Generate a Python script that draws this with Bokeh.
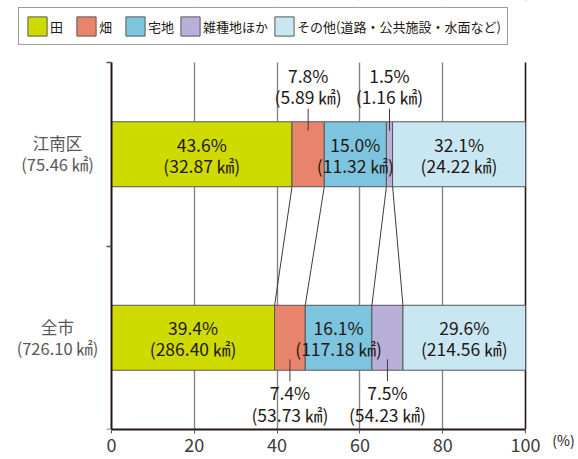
from bokeh.plotting import figure
from bokeh.models import (Range1d, FixedTicker, Label, Legend, LegendItem, Span,
                          ColumnDataSource, LinearAxis, BoxAnnotation)
from bokeh.core.properties import value
from bokeh.embed import file_html
from bokeh.resources import INLINE

# ---- data ----
categories = ["江南区", "全市"]
cat_totals = ["75.46", "726.10"]
series = ["田", "畑", "宅地", "雑種地ほか", "その他(道路・公共施設・水面など)"]
pct_konan = [43.6, 7.8, 15.0, 1.5, 32.1]
pct_city = [39.4, 7.4, 16.1, 7.5, 29.6]
km2_konan = [32.87, 5.89, 11.32, 1.16, 24.22]
km2_city = [286.40, 53.73, 117.18, 54.23, 214.56]
colors = ["#cfdb00", "#e8846b", "#7dc4df", "#b8b0d8", "#c9e7f3"]
x_ticks = [0, 20, 40, 60, 80, 100]
unit_label = "(%)"

FONT = "Noto Sans CJK JP"
TXT = "#231815"
y_pos = [1.5, 0.5]          # 江南区 on top, 全市 below
y_top = 2.0                 # top of the bar area (y axis end)
bar_h = 0.354
px_unit = 183.5             # pixels per y unit
px_x = 4.14                 # pixels per x unit
frame_left = 12
axis_px = 111               # screen x of value 0
unit_x = 100 + 38 / px_x    # where the "(%)" unit text sits

p = figure(width=578, height=459, title=None,
           x_range=Range1d(-(axis_px - frame_left) / px_x, 100 + (578 - 525) / px_x),
           y_range=Range1d(0, y_top + 62 / px_unit),
           output_backend="svg", toolbar_location=None,
           min_border_left=frame_left, min_border_right=0, min_border_top=0,
           min_border_bottom=30)
p.outline_line_color = None
p.background_fill_color = "white"


def cum(vals):
    out = [0.0]
    for v in vals:
        out.append(out[-1] + v)
    return out


pcts = [pct_konan, pct_city]
kms = [km2_konan, km2_city]
cums = [cum(pct_konan), cum(pct_city)]

# grid (masked above the bar area)
p.ygrid.grid_line_color = None
p.xgrid.ticker = FixedTicker(ticks=x_ticks[1:-1])
p.xgrid.grid_line_color = "#858585"
p.xgrid.grid_line_width = 1.4
p.add_layout(Span(location=x_ticks[-1], dimension="height", line_color=TXT,
                  line_width=1.6, level="underlay"))
p.add_layout(BoxAnnotation(bottom=y_top, fill_color="white", fill_alpha=1,
                           line_color=None, level="underlay"))

# bars
renderers = []
for i, name in enumerate(series):
    src = ColumnDataSource(dict(y=y_pos,
                                left=[cums[0][i], cums[1][i]],
                                right=[cums[0][i + 1], cums[1][i + 1]]))
    r = p.hbar(y="y", left="left", right="right", height=bar_h, source=src,
               fill_color=colors[i], line_color="#595757", line_width=1)
    renderers.append(r)

# connector lines between the two bars
p.segment(x0=cums[0][1:5], y0=[y_pos[0] - bar_h / 2] * 4,
          x1=cums[1][1:5], y1=[y_pos[1] + bar_h / 2] * 4,
          line_color="#3e3a39", line_width=1)

# value labels
in_x, in_y, in_p, in_k = [], [], [], []
out_x, out_y, out_p, out_k, out_dir = [], [], [], [], []
for c in range(2):
    for i in range(len(series)):
        xc = (cums[c][i] + cums[c][i + 1]) / 2
        pt = "%.1f%%" % pcts[c][i]
        kt = "(%.2f ㎢)" % kms[c][i]
        if pcts[c][i] >= 10:
            in_x.append(xc); in_y.append(y_pos[c]); in_p.append(pt); in_k.append(kt)
        else:
            out_x.append(xc); out_p.append(pt); out_k.append(kt); out_dir.append(c)
            out_y.append(y_pos[c] + bar_h / 2 if c == 0 else y_pos[c] - bar_h / 2)

LBL = dict(text_align="center", text_baseline="middle", text_font=value(FONT),
           text_font_size="17.5px", text_color=TXT)
p.text(x=in_x, y=in_y, text=in_p, y_offset=-10, **LBL)
p.text(x=in_x, y=in_y, text=in_k, y_offset=11, **LBL)

for xc, ye, pt, kt, d in zip(out_x, out_y, out_p, out_k, out_dir):
    if d == 0:
        p.segment(x0=[xc], y0=[ye + 13 / px_unit], x1=[xc], y1=[ye - 9 / px_unit],
                  line_color="#3e3a39", line_width=1)
        p.text(x=[xc], y=[ye], text=[pt], y_offset=-46, **LBL)
        p.text(x=[xc], y=[ye], text=[kt], y_offset=-25, **LBL)
    else:
        p.segment(x0=[xc], y0=[ye + 11 / px_unit], x1=[xc], y1=[ye - 11 / px_unit],
                  line_color="#3e3a39", line_width=1)
        p.text(x=[xc], y=[ye], text=[pt], y_offset=22, **LBL)
        p.text(x=[xc], y=[ye], text=[kt], y_offset=44, **LBL)

# category labels (left of the y axis)
for c in range(2):
    p.add_layout(Label(x=0, y=y_pos[c], x_offset=-54, y_offset=11, text=categories[c],
                       text_align="center", text_baseline="middle", text_font=FONT,
                       text_font_size="16.5px", text_color="#595757"))
    p.add_layout(Label(x=0, y=y_pos[c], x_offset=-54, y_offset=-10,
                       text="(%s ㎢)" % cat_totals[c],
                       text_align="center", text_baseline="middle", text_font=FONT,
                       text_font_size="16.5px", text_color="#595757"))

# x axis
p.xaxis.ticker = FixedTicker(ticks=x_ticks)
p.xaxis.bounds = (x_ticks[0], x_ticks[-1])
p.xaxis.major_tick_out = 4
p.xaxis.major_tick_in = 0
p.xaxis.minor_tick_line_color = None
p.xaxis.axis_line_width = 2
p.xaxis.axis_line_color = TXT
p.xaxis.major_tick_line_color = "#555555"
p.xaxis.major_label_text_font = FONT
p.xaxis.major_label_text_font_size = "18px"
p.xaxis.major_label_text_color = "#3e3a39"
p.xaxis.major_label_standoff = 4

# unit "(%)" as the label of a second bottom axis, lifted up beside "100"
unit_axis = LinearAxis(ticker=FixedTicker(ticks=[unit_x]),
                       major_label_overrides={unit_x: unit_label},
                       axis_line_color=None, major_tick_line_color=None,
                       minor_tick_line_color=None, major_tick_out=0, major_tick_in=0,
                       major_label_standoff=-25, major_label_text_font=FONT,
                       major_label_text_font_size="14px", major_label_text_color=TXT)
p.add_layout(unit_axis, "below")

# y axis drawn at x = 0
p.yaxis.fixed_location = 0
p.yaxis.bounds = (0, y_top)
p.yaxis.ticker = FixedTicker(ticks=[0, 1, 2])
p.yaxis.major_label_overrides = {0: "", 1: "", 2: ""}
p.yaxis.major_label_standoff = 0
p.yaxis.major_tick_out = 5
p.yaxis.major_tick_in = 0
p.yaxis.major_tick_line_color = "#555555"
p.yaxis.major_tick_line_width = 1.5
p.yaxis.minor_tick_line_color = None
p.yaxis.axis_line_width = 2
p.yaxis.axis_line_color = TXT

# legend (top-left, above the bar area)
items = [LegendItem(label=s, renderers=[r]) for s, r in zip(series, renderers)]
legend = Legend(items=items, orientation="horizontal",
                location=(18 - frame_left, 429 - 9 - 36),
                label_text_font=FONT, label_text_font_size="13px", label_text_color=TXT,
                glyph_width=24, glyph_height=24, label_standoff=1, spacing=4,
                padding=6, margin=0, label_height=20,
                border_line_color="#3e3a39", border_line_width=1.2,
                background_fill_color="white", background_fill_alpha=1)
p.add_layout(legend, "center")

open("out.html", "w").write(file_html(p, INLINE))
